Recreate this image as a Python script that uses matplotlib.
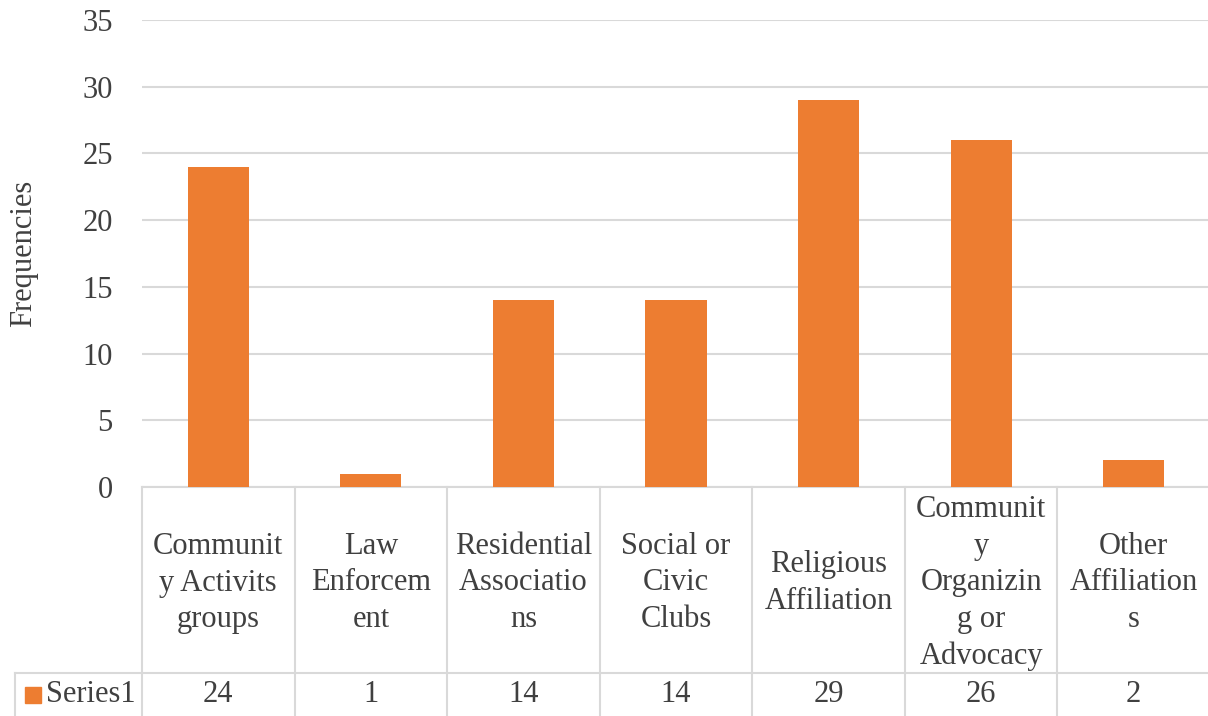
import matplotlib.pyplot as plt
import numpy as np

plt.rcParams['font.family'] = ['Liberation Serif', 'DejaVu Serif']

# affiliation categories, wrapped the way the data table cells wrap them
categories = ['Communit\ny Activits\ngroups', 'Law\nEnforcem\nent', 'Residential\nAssociatio\nns',
              'Social or\nCivic\nClubs', 'Religious\nAffiliation',
              'Communit\ny\nOrganizin\ng or\nAdvocacy', 'Other\nAffiliation\ns']
frequencies = [24, 1, 14, 14, 29, 26, 2]
series_name = 'Series1'
y_ticks = [0, 5, 10, 15, 20, 25, 30, 35]

bar_color = '#ED7D31'
grid_color = '#d9d9d9'
text_color = '#404040'
fs = 22

W, H = 1208, 716
fig = plt.figure(figsize=(W / 100, H / 100), dpi=100)
ax = fig.add_axes([142 / W, 229 / H, 1068 / W, 467 / H])

x = np.arange(len(frequencies))
ax.bar(x, frequencies, width=0.4, color=bar_color, zorder=3)
ax.set_xlim(-0.5, len(frequencies) - 0.5)
ax.set_ylim(0, 35)
ax.set_yticks(y_ticks)
ax.set_xticks([])
ax.grid(axis='y', color=grid_color, linewidth=1.5, zorder=0)
ax.tick_params(axis='y', length=0, pad=21, labelsize=fs, labelcolor=text_color)
for s in ax.spines.values():
    s.set_visible(False)
ax.set_ylabel('Frequencies', fontsize=fs, color=text_color, va='center')
ax.yaxis.set_label_coords(-118 / 1068, 0.5)

# data table under the plot
px = 1 / 467  # one pixel in axes units (vertical)
row1_bottom = -186 * px
row2_bottom = -229 * px
trans = ax.get_xaxis_transform()
lw = 1.5
for i in range(len(frequencies) + 1):
    ax.plot([i - 0.5, i - 0.5], [0, row2_bottom - 0.01], transform=trans, color=grid_color,
            lw=lw, clip_on=False, zorder=2)
ax.plot([-0.5, len(frequencies) - 0.5], [0, 0], transform=trans, color=grid_color, lw=lw,
        clip_on=False, zorder=2)
# the legend cell reaches further left than the plot area
col_px = 1068 / len(frequencies)
legend_left = -0.5 - 127 / col_px
ax.plot([legend_left, len(frequencies) - 0.5], [row1_bottom, row1_bottom], transform=trans,
        color=grid_color, lw=lw, clip_on=False)
ax.plot([legend_left, legend_left], [row1_bottom, row2_bottom - 0.01], transform=trans,
        color=grid_color, lw=lw, clip_on=False)

row1_mid = row1_bottom / 2 - 3 * px
row2_mid = (row1_bottom + row2_bottom) / 2
for i, (cat, val) in enumerate(zip(categories, frequencies)):
    ax.text(i, row1_mid, cat, transform=trans, ha='center', va='center',
            fontsize=fs, color=text_color, linespacing=1.34, clip_on=False)
    ax.text(i, row2_mid, str(val), transform=trans, ha='center',
            va='center', fontsize=fs, color=text_color, clip_on=False)

ax.plot([legend_left + 18 / col_px], [row2_mid], transform=trans, marker='s', ms=11.5,
        color=bar_color, clip_on=False)
ax.text(legend_left + 31 / col_px, row2_mid, series_name, transform=trans,
        ha='left', va='center', fontsize=fs, color=text_color, clip_on=False)

fig.savefig('out.png', dpi=100)
